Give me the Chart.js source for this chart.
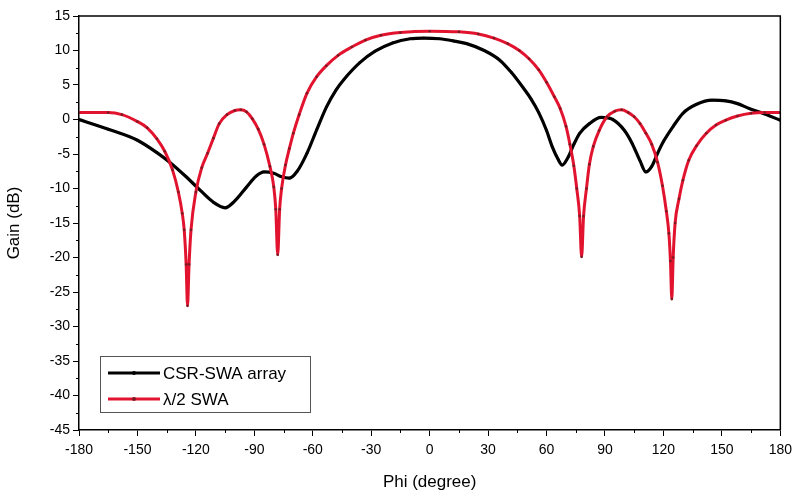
<!DOCTYPE html>
<html>
<head>
<meta charset="utf-8">
<script src="https://cdn.jsdelivr.net/npm/chart.js@4/dist/chart.umd.min.js"></script>
<style>
  body { margin: 0; background: #fff; }
  #wrap { width: 798px; height: 497px; }
</style>
</head>
<body>
<div id="wrap"><canvas id="grafico" width="798" height="497"></canvas></div>
<script>
// CSR-SWA array (preto)
const csrPhi = [-180, -165, -150, -140, -133, -125, -118, -111, -105, -100, -94, -89, -85, -80, -76, -72, -68, -63, -58, -53, -48, -44, -36, -28, -19, -10, -3, 5, 12, 19, 28, 36, 42, 48, 52, 56, 60, 63, 66, 68, 71, 74, 77, 82, 88, 94, 100, 104, 108, 111, 114, 117, 120, 125, 130, 137, 145, 152, 158, 164, 170, 180]
const csrGain = [0, -1.4, -3, -4.8, -6.3, -8.3, -10.2, -12, -12.8, -11.8, -9.8, -8.2, -7.6, -7.8, -8.3, -8.5, -7.5, -4.9, -1.5, 1.8, 4.3, 5.8, 8.2, 9.9, 11.1, 11.7, 11.8, 11.7, 11.4, 11.0, 10, 8.6, 6.8, 4.6, 3.0, 1.0, -1.6, -4, -5.8, -6.6, -5.5, -3.6, -2, -0.6, 0.3, 0, -1.6, -3.5, -6, -7.6, -6.8, -4.9, -3.2, -1, 0.9, 2.2, 2.8, 2.7, 2.3, 1.6, 1.0, -0.1]

// lambda/2 SWA (vermelho)
const swaPhi = [-180, -165, -158, -150, -145, -140, -136, -132, -129, -127, -126, -125, -124.3, -123.5, -122.5, -120, -117, -114, -111, -108, -104, -100, -97, -94, -91, -88, -85, -82, -80, -79, -78, -77, -76, -74, -72, -70, -67, -63, -58, -53, -47, -40, -33, -25, -15, 0, 15, 25, 33, 40, 46, 51, 56, 60, 64, 67, 70, 72, 74, 75.5, 77, 78, 79, 80.5, 82, 84, 87, 91, 95, 98.5, 102, 105, 108, 111, 114, 117, 119.5, 121.5, 122.8, 123.6, 124.3, 125, 126, 128, 130, 133, 137, 142, 147, 152, 158, 165, 172, 180]
const swaGain = [1.0, 1.0, 0.7, -0.3, -1.2, -2.8, -4.6, -7.3, -10.5, -13.6, -16, -21, -27, -21, -16, -10.5, -7.0, -4.9, -2.7, -0.6, 0.7, 1.3, 1.4, 1.1, 0.1, -1.4, -3.6, -6.8, -9.8, -13, -19.6, -13, -10, -6.6, -4.2, -2, 0.7, 3.8, 6.2, 7.8, 9.3, 10.5, 11.5, 12.2, 12.6, 12.8, 12.7, 12.4, 11.8, 11.0, 10, 8.8, 7.2, 5.4, 3.3, 1.6, -1, -3.6, -6.7, -10, -14, -19.9, -14, -10, -6.5, -3.9, -1.6, 0.4, 1.2, 1.4, 1.0, 0.4, -0.6, -2, -3.6, -6.2, -9.6, -13.3, -16.5, -20.5, -26, -20, -15, -11.5, -8.8, -5.9, -3.8, -2, -0.8, -0.1, 0.5, 0.9, 1.0, 1.0]

const legendas = ['CSR-SWA array', 'λ/2 SWA']
const xTicks = [-180, -150, -120, -90, -60, -30, 0, 30, 60, 90, 120, 150, 180]

const fonte = '"Liberation Sans", Arial, sans-serif'
const preto = '#000000'
const vermelho = '#e2132e'

function pontos(xs, ys) {
    let out = []
    for (let i in xs) out.push({ x: xs[i], y: ys[i] })
    return out
}

// moldura, ticks menores e legenda
const extras = {
    id: 'extras',
    afterDraw(chart) {
        const ctx = chart.ctx
        const a = chart.chartArea
        const sx = chart.scales.x, sy = chart.scales.y
        ctx.save()
        ctx.strokeStyle = '#000'
        ctx.lineWidth = 1.5
        ctx.beginPath()
        ctx.moveTo(a.left, a.top); ctx.lineTo(a.right, a.top); ctx.lineTo(a.right, a.bottom)
        ctx.stroke()
        ctx.lineWidth = 1
        ctx.beginPath()
        for (let v = -165; v < 180; v += 30) {
            let px = Math.round(sx.getPixelForValue(v)) + 0.5
            ctx.moveTo(px, a.bottom); ctx.lineTo(px, a.bottom + 3)
        }
        for (let v = -42.5; v < 15; v += 5) {
            let py = Math.round(sy.getPixelForValue(v)) + 0.5
            ctx.moveTo(a.left, py); ctx.lineTo(a.left - 3, py)
        }
        ctx.stroke()

        // legenda
        const bx = 100, by = 356, bw = 210, bh = 56
        ctx.strokeStyle = '#555'
        ctx.lineWidth = 1
        ctx.fillStyle = '#fff'
        ctx.fillRect(bx, by, bw, bh)
        ctx.strokeRect(bx + 0.5, by + 0.5, bw, bh)
        const cores = [preto, vermelho]
        const marc = [preto, '#7a1a22']
        for (let i = 0; i < legendas.length; i++) {
            let y = by + 17 + i * 26
            ctx.strokeStyle = cores[i]
            ctx.lineWidth = 3
            ctx.beginPath(); ctx.moveTo(108, y); ctx.lineTo(160, y); ctx.stroke()
            ctx.fillStyle = marc[i]
            ctx.beginPath(); ctx.arc(134, y, 2, 0, Math.PI * 2); ctx.fill()
            ctx.fillStyle = '#000'
            ctx.font = '17px ' + fonte
            ctx.textBaseline = 'middle'
            ctx.textAlign = 'left'
            ctx.fillText(legendas[i], 163, y + 1)
        }
        ctx.restore()
    }
}

const config = {
    type: 'line',
    data: {
        datasets: [
            {
                label: legendas[1],
                data: pontos(swaPhi, swaGain),
                borderColor: vermelho,
                borderWidth: 3,
                pointRadius: 1.3,
                pointBackgroundColor: '#7a1a22',
                pointBorderWidth: 0,
                cubicInterpolationMode: 'monotone',
                fill: false
            },
            {
                label: legendas[0],
                data: pontos(csrPhi, csrGain),
                borderColor: preto,
                borderWidth: 3.2,
                pointRadius: 1.3,
                pointBackgroundColor: preto,
                pointBorderWidth: 0,
                cubicInterpolationMode: 'monotone',
                fill: false
            }
        ]
    },
    options: {
        responsive: false,
        animation: false,
        layout: { padding: { left: 0, top: 16, right: 17, bottom: 0 } },
        plugins: {
            legend: { display: false },
            tooltip: { enabled: false }
        },
        scales: {
            x: {
                type: 'linear',
                min: -180,
                max: 180,
                afterBuildTicks: s => { s.ticks = xTicks.map(v => ({ value: v })) },
                afterFit: s => { s.height = 67 },
                border: { display: true, color: '#000', width: 1.5 },
                grid: { drawOnChartArea: false, drawTicks: true, tickLength: 6, color: '#000' },
                ticks: { color: '#000', font: { family: fonte, size: 14 }, padding: 6, maxRotation: 0, autoSkip: false },
                title: { display: true, text: 'Phi (degree)', color: '#000', font: { family: fonte, size: 17 }, padding: { top: 6 } }
            },
            y: {
                type: 'linear',
                min: -45,
                max: 15,
                afterFit: s => { s.width = 79 },
                border: { display: true, color: '#000', width: 1.5 },
                grid: { drawOnChartArea: false, drawTicks: true, tickLength: 6, color: '#000' },
                ticks: { stepSize: 5, color: '#000', font: { family: fonte, size: 14 }, padding: 3 },
                title: { display: true, text: 'Gain (dB)', color: '#000', font: { family: fonte, size: 17 }, padding: { bottom: 4 } }
            }
        }
    },
    plugins: [extras]
}

const myChart = new Chart(document.getElementById('grafico'), config)
</script>
</body>
</html>
